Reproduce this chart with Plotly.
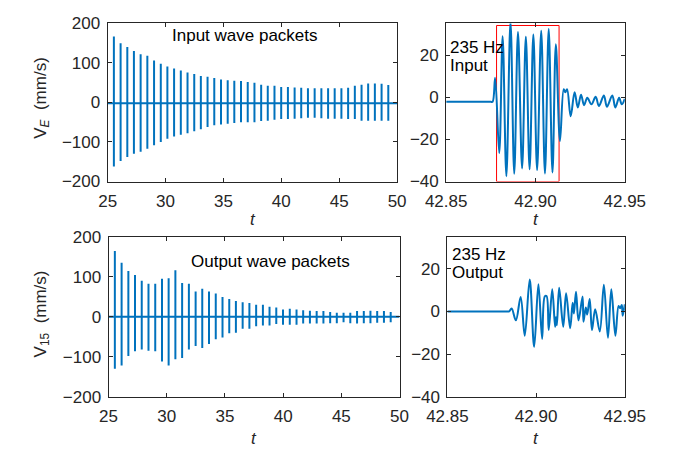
import plotly.graph_objects as go

# ---- packet train (one entry per wave packet) ----
packet_t = [25.54, 26.12, 26.70, 27.27, 27.85, 28.43, 29.01, 29.59, 30.16, 30.74,
            31.32, 31.90, 32.48, 33.05, 33.63, 34.21, 34.79, 35.37, 35.94, 36.52,
            37.10, 37.68, 38.26, 38.83, 39.41, 39.99, 40.57, 41.15, 41.72, 42.30,
            42.88, 43.46, 44.04, 44.61, 45.19, 45.77, 46.35, 46.93, 47.50, 48.08,
            48.66, 49.24]

input_max = [167, 150, 140, 130, 122, 118, 106, 98, 91, 86, 81, 76, 72, 67, 65, 62,
             58, 56, 55, 54, 52, 50, 45, 42, 42, 39, 39, 38, 37, 36, 36, 36, 36, 36,
             36, 37, 42, 45, 48, 48, 47, 44]
input_min = [-162, -148, -138, -130, -125, -117, -108, -100, -92, -86, -82, -78, -73,
             -68, -62, -58, -56, -54, -52, -50, -50, -50, -47, -46, -44, -42, -42,
             -41, -40, -39, -39, -40, -41, -41, -41, -42, -42, -46, -46, -46, -46, -46]

output_max = [164, 135, 114, 104, 90, 82, 82, 95, 96, 116, 84, 82, 63, 70, 63, 58, 49,
              44, 39, 36, 34, 30, 30, 25, 23, 18, 20, 18, 16, 15, 14, 14, 12, 10, 10,
              10, 14, 14, 15, 14, 14, 12]
output_min = [-130, -122, -98, -86, -82, -85, -86, -112, -122, -106, -103, -82, -73,
              -78, -68, -56, -52, -41, -40, -30, -30, -24, -22, -22, -18, -20, -20,
              -20, -17, -17, -17, -17, -16, -16, -14, -16, -17, -16, -16, -15, -15, -14]

input_base = -2.2
output_base = 0.0
t_span = [25, 50]

# ---- single 235 Hz packet, close-up ----
t_in = [42.8500, 42.8600, 42.8700, 42.8750, 42.8760, 42.8774, 42.8797, 42.8816,
        42.8837, 42.8860, 42.8881, 42.8902, 42.8925, 42.8946, 42.8967, 42.8988,
        42.9009, 42.9032, 42.9053, 42.9074, 42.9095, 42.9114, 42.9137, 42.9158,
        42.9167, 42.9177, 42.9197, 42.9219, 42.9237, 42.9255, 42.9272, 42.9290,
        42.9313, 42.9337, 42.9355, 42.9383, 42.9400, 42.9430, 42.9447, 42.9468,
        42.9483, 42.9500]
v_in = [-2.2, -2.2, -2.2, -2.2, -2.2, 9.2, -26.5, 28.9, -37.5, 36.0, -36.3, 30.9,
        -33.8, 28.6, -34.2, 29.7, -34.6, 31.5, -36.2, 32.3, -35.7, 25.1, -20.8, 3.8,
        2.3, 3.8, -9.1, 2.3, -4.9, 1.2, -3.8, -0.3, -3.4, 0.2, -4.2, 0.8, -4.5, 0.8,
        -4.9, -0.3, -3.4, -0.8]

t_out = [42.8500, 42.8600, 42.8700, 42.8800, 42.8840, 42.8848, 42.8862, 42.8886,
         42.8913, 42.8936, 42.8964, 42.8989, 42.9013, 42.9034, 42.9049, 42.9059,
         42.9071, 42.9091, 42.9107, 42.9112, 42.9117, 42.9130, 42.9153, 42.9169,
         42.9192, 42.9206, 42.9213, 42.9225, 42.9239, 42.9262, 42.9267, 42.9280,
         42.9288, 42.9302, 42.9315, 42.9333, 42.9359, 42.9382, 42.9405, 42.9424,
         42.9447, 42.9465, 42.9474, 42.9483, 42.9488, 42.9500]
v_out = [0.0, 0.0, 0.0, 0.0, 0.0, 0.0, 1.3, -4.2, 6.7, -11.4, 14.9, -16.6, 12.7,
         -12.9, 7.0, 7.2, -8.7, 10.4, -7.2, -2.7, -6.5, 11.0, -7.2, 8.5, -7.9, 4.0,
         -1.0, 9.2, -4.2, 7.0, -4.9, 1.8, -1.5, 5.8, -8.7, 1.0, -9.4, 12.5, -12.4,
         10.4, -11.4, 2.5, 1.5, 3.0, -2.0, 3.3]

# highlighted window around the input packet
box_t = [42.8782, 42.9132]
box_v = [-40, 34]

left_ticks = [25, 30, 35, 40, 45, 50]
left_yticks = [-200, -100, 0, 100, 200]
right_ticks = [42.85, 42.90, 42.95]
right_yticks = [-40, -20, 0, 20]

BLUE = "#0072BD"
AX = "#262626"
FONT = "Liberation Sans, Arial, sans-serif"
FS = 17
W, H = 684, 456


def packet_trace(times, tops, bottoms, base):
    xs, ys = [t_span[0]], [base]
    for t, hi, lo in zip(times, tops, bottoms):
        xs += [t, t, t, t]
        ys += [base, hi, lo, base]
    xs.append(t_span[1])
    ys.append(base)
    return xs, ys


def px(x):
    return x / W


def py(y):
    return 1 - y / H


fig = go.Figure()

xs, ys = packet_trace(packet_t, input_max, input_min, input_base)
fig.add_trace(go.Scatter(x=xs, y=ys, mode="lines", line=dict(color=BLUE, width=2),
                         xaxis="x", yaxis="y", showlegend=False))
fig.add_trace(go.Scatter(x=t_in, y=v_in, mode="lines",
                         line=dict(color=BLUE, width=2, shape="spline", smoothing=1),
                         xaxis="x2", yaxis="y2", showlegend=False))
xs, ys = packet_trace(packet_t, output_max, output_min, output_base)
fig.add_trace(go.Scatter(x=xs, y=ys, mode="lines", line=dict(color=BLUE, width=2),
                         xaxis="x3", yaxis="y3", showlegend=False))
fig.add_trace(go.Scatter(x=t_out, y=v_out, mode="lines",
                         line=dict(color=BLUE, width=2, shape="spline", smoothing=1),
                         xaxis="x4", yaxis="y4", showlegend=False))

common = dict(showline=True, linecolor=AX, linewidth=1, mirror="ticks",
              ticks="inside", ticklen=4, tickwidth=1, tickcolor=AX,
              showgrid=False, zeroline=False,
              tickfont=dict(family=FONT, size=FS, color=AX))
xcommon = dict(ticklabelstandoff=4, **common)
ycommon = dict(ticklabelstandoff=3, **common)

top_dom = [py(180), py(15)]
bot_dom = [py(404.7), py(237.5)]

fig.update_layout(
    width=W, height=H, margin=dict(l=0, r=0, t=0, b=0),
    paper_bgcolor="white", plot_bgcolor="white",
    xaxis=dict(domain=[px(92.3), px(400.7)], range=t_span, tickvals=left_ticks,
               anchor="y", **xcommon),
    yaxis=dict(domain=top_dom, range=[-200, 200], tickvals=left_yticks,
               anchor="x", **ycommon),
    xaxis2=dict(domain=[px(453), px(643.3)], range=[42.85, 42.95],
                tickvals=right_ticks, tickformat=".2f", anchor="y2", **xcommon),
    yaxis2=dict(domain=top_dom, range=[-40, 35], tickvals=right_yticks,
                anchor="x2", **ycommon),
    xaxis3=dict(domain=[px(93.3), px(403.3)], range=t_span, tickvals=left_ticks,
                anchor="y3", **xcommon),
    yaxis3=dict(domain=bot_dom, range=[-200, 200], tickvals=left_yticks,
                anchor="x3", **ycommon),
    xaxis4=dict(domain=[px(454.3), px(643.3)], range=[42.85, 42.95],
                tickvals=right_ticks, tickformat=".2f", anchor="y4", **xcommon),
    yaxis4=dict(domain=bot_dom, range=[-40, 35], tickvals=right_yticks,
                anchor="x4", **ycommon),
)

fig.add_shape(type="rect", xref="x2", yref="y2", x0=box_t[0], x1=box_t[1],
              y0=box_v[0], y1=box_v[1], line=dict(color="#FF0000", width=1),
              layer="below")


def label(text, x, y, xanchor="left", angle=0, size=FS, color="#000000"):
    fig.add_annotation(text=text, x=px(x), y=py(y), xref="paper", yref="paper",
                       xanchor=xanchor, yanchor="middle", showarrow=False,
                       textangle=angle, font=dict(family=FONT, size=size, color=color))


label("Input wave packets", 158.5, 27.5)
label("Output wave packets", 179.5, 263.5)
label("235 Hz", 455, 40)
label("Input", 455, 58.5)
label("235 Hz", 457.5, 256)
label("Output", 457.5, 274.5)

label("<i>t</i>", 247.5, 220, xanchor="center", color=AX)
label("<i>t</i>", 548.5, 220, xanchor="center", color=AX)
label("<i>t</i>", 248.5, 448, xanchor="center", color=AX)
label("<i>t</i>", 548.8, 448, xanchor="center", color=AX)

label("V<sub><i>E</i></sub>\u00a0\u00a0(mm/s)", 22, 93, xanchor="center", angle=-90, color=AX)
label("V<sub>15</sub>\u00a0\u00a0(mm/s)", 22, 318, xanchor="center", angle=-90, color=AX)

fig.write_html("out.html")
